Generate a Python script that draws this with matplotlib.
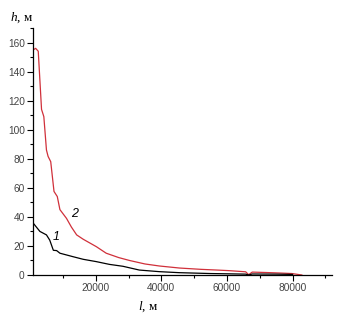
import matplotlib
matplotlib.use("Agg")
import matplotlib.pyplot as plt
from matplotlib.ticker import MultipleLocator

plt.rcParams["mathtext.fontset"] = "custom"
plt.rcParams["mathtext.it"] = "Liberation Serif:italic"
plt.rcParams["mathtext.rm"] = "Liberation Serif"

# Curve 2 (red)
x2 = [1000, 1700, 2500, 3500, 4200, 5000, 5500, 6300, 7300, 8300, 9100, 11100, 12600,
      14200, 16200, 20200, 23200, 27000, 30300, 35000, 39400, 45500, 52000, 57000, 60600,
      65700, 66600, 67700, 72000, 76800, 79800, 81000, 82800]
h2 = [155, 156, 154, 114, 109, 86, 81.6, 78, 57.5, 54, 45, 39, 33,
      27.6, 24.6, 19.5, 15, 12, 10.0, 7.6, 6.2, 4.8, 3.9, 3.4, 3.0,
      2.2, 0.2, 2.0, 1.7, 1.3, 1.0, 0.6, 0.0]
# Curve 1 (black)
x1 = [1000, 3000, 5000, 6000, 7100, 8100, 9100, 13100, 16200, 20200, 24200, 28300,
      33300, 39400, 45500, 55000, 60600, 65700, 66600, 67700, 75000, 80000]
h1 = [35.6, 30, 27.6, 24, 17, 16.8, 15, 12.6, 10.8, 9.2, 7.3, 6.0,
      3.4, 2.3, 1.6, 1.0, 0.8, 0.6, 0.0, 0.7, 0.6, 0.4]

fig = plt.figure(figsize=(3.44, 3.22), dpi=100)
ax = fig.add_axes([33/344, 1-275/322, (332-33)/344, (275-28)/322])

ax.plot(x2, h2, color="#d0303a", lw=0.9)
ax.plot(x1, h1, color="black", lw=0.9)

ax.set_xlim(900, 92000)
ax.set_ylim(0, 170)
ax.xaxis.set_major_locator(MultipleLocator(20000))
ax.xaxis.set_minor_locator(MultipleLocator(10000))
ax.yaxis.set_major_locator(MultipleLocator(20))
ax.yaxis.set_minor_locator(MultipleLocator(10))

for s in ("top", "right"):
    ax.spines[s].set_visible(False)
for s in ("left", "bottom"):
    ax.spines[s].set_linewidth(0.9)

ax.tick_params(which="major", direction="out", length=4, width=0.8,
               labelsize=7.3, labelcolor="#444444", pad=2)
ax.tick_params(which="minor", direction="out", length=2.5, width=0.8)
for lab in ax.get_xticklabels() + ax.get_yticklabels():
    lab.set_family("Liberation Sans")

fig.text(10/344, 1-18/322, "$h$, м", fontsize=9.5, family="Liberation Serif",
         va="center", ha="left")
fig.text(138/344, 1-307/322, "$l$, м", fontsize=9.5, family="Liberation Serif",
         va="center", ha="left")

ax.text(6800, 24, "1", fontsize=9, style="italic", family="Liberation Sans")
ax.text(12500, 40, "2", fontsize=9, style="italic", family="Liberation Sans")

fig.savefig("out.png", dpi=100)
